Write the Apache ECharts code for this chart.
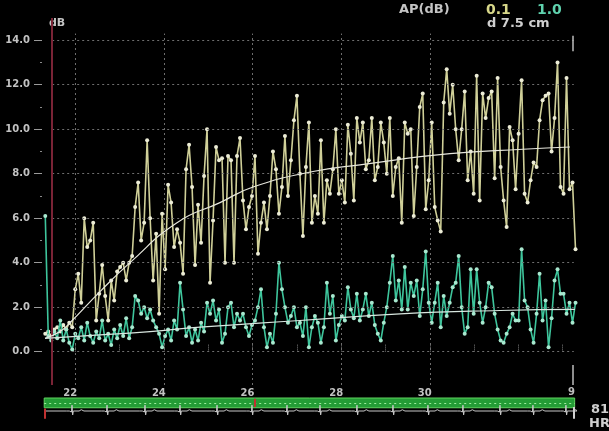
<!DOCTYPE html>
<html>
<head>
<meta charset="utf-8">
<script src="https://cdn.jsdelivr.net/npm/echarts@6/dist/echarts.min.js"></script>
<style>
  html, body { margin: 0; padding: 0; background: #000; }
  #chart { width: 609px; height: 431px; }
</style>
</head>
<body>
<div id="chart"></div>
<script>
// Acquisition timing: first frame time (s) and frame interval (s)
const frameStart = 21.324;
const frameStep = 0.0676;

// Acoustic power trace (dB), gain 0.1 channel
const apYellow = [
  0.8,0.9,0.7,1.0,1.1,0.9,1.2,1.0,1.3,1.1,
  2.8,3.5,2.2,6.0,4.7,5.0,5.8,1.4,2.6,3.9,
  2.5,1.4,3.2,2.3,3.6,3.8,4.0,3.2,4.0,4.3,
  6.5,7.6,5.0,5.8,9.5,6.0,3.2,5.3,1.7,6.2,
  3.7,7.5,6.7,4.7,5.5,4.9,3.5,8.2,9.3,7.4,
  3.9,6.6,4.9,7.9,10.0,3.1,5.9,9.2,8.6,8.7,
  4.0,8.8,8.6,4.0,8.8,9.6,6.8,5.5,6.5,7.0,
  8.8,4.4,5.8,6.7,5.5,7.0,9.0,8.2,6.2,7.4,
  9.7,7.0,8.6,10.4,11.5,8.0,5.2,8.3,10.3,5.8,
  7.0,6.2,9.5,5.8,7.7,7.1,8.2,10.0,7.1,7.7,
  6.7,10.2,8.9,6.8,10.5,9.4,10.3,8.2,8.6,10.5,
  7.7,8.3,10.3,9.4,8.0,10.5,7.0,8.3,8.7,5.8,
  10.3,9.8,10.0,6.1,8.3,11.0,11.6,6.4,7.7,10.3,
  6.5,5.9,5.4,11.2,12.7,10.7,12.0,10.0,8.6,10.0,
  11.7,7.7,9.0,7.1,12.4,6.8,11.6,10.5,11.4,11.7,
  7.8,12.3,8.3,6.8,5.6,10.1,9.5,7.3,9.8,12.2,
  7.1,6.7,7.7,8.5,8.3,10.4,11.3,11.5,11.6,9.0,
  10.5,13.0,7.4,7.1,12.3,7.3,7.6,4.6
];

// Acoustic power trace (dB), gain 1.0 channel
const apGreen = [
  6.1,0.7,0.5,0.9,0.6,1.4,0.5,1.0,0.4,0.1,
  0.8,0.6,1.1,0.5,1.3,0.7,0.4,0.9,0.6,1.4,
  0.5,0.8,0.3,1.0,0.6,1.2,0.7,1.5,0.6,1.1,
  2.5,2.3,1.7,2.0,1.5,1.9,1.4,1.1,0.8,0.2,
  0.7,1.0,0.5,1.4,1.0,3.1,1.9,0.7,1.1,0.4,
  1.0,0.5,1.3,0.9,2.2,1.7,2.3,1.4,1.9,0.4,
  0.8,2.0,2.2,1.1,1.7,1.4,1.7,1.1,0.7,1.2,
  1.4,2.0,2.8,1.1,0.2,0.8,0.4,1.7,4.0,2.8,
  2.0,1.3,1.6,2.0,1.1,1.3,0.7,2.0,0.2,1.1,
  1.6,1.3,0.4,1.1,3.1,1.7,2.5,0.5,1.2,1.6,
  1.4,2.9,1.9,1.5,2.6,1.4,1.9,2.6,1.6,2.2,
  1.2,0.8,0.5,1.3,2.0,3.1,4.3,2.3,3.2,1.9,
  3.8,1.9,3.1,2.5,3.2,1.6,2.8,4.5,2.2,1.3,
  2.2,3.1,1.1,2.5,1.6,2.2,2.9,3.1,4.3,2.0,
  0.8,1.1,3.7,1.7,3.7,2.2,1.3,2.0,3.1,2.9,
  1.7,1.0,0.5,0.4,0.8,1.1,1.7,1.4,1.4,4.6,
  2.3,2.0,1.0,0.4,1.7,3.5,1.4,2.3,0.2,1.5,
  3.2,3.7,2.6,2.6,1.7,2.2,1.3,2.2
];

// Replenishment curve fits
const fitYellowT  = [21.318,21.656,21.882,22.559,23.236,24.296,25.266,26.011,27.365,28.425,30.456,32.103,33.163];
const fitYellowDb = [0.6,0.9,1.3,2.7,4.0,5.8,6.7,7.4,8.1,8.4,8.9,9.1,9.2];
const fitGreenT   = [21.318,22.559,23.687,24.815,27.071,29.328,31.584,33.276];
const fitGreenDb  = [0.6,0.75,0.9,1.1,1.4,1.7,1.85,1.9];

// Axis ticks
const xTickLabels = [22, 24, 26, 28, 30];
const xTickMarks  = [22, 23, 24, 25, 26, 27, 28, 29, 30, 31, 32, 33];
const yTickLabels = [0, 2, 4, 6, 8, 10, 12, 14];
const yMinorTicks = [1, 3, 5, 7, 9, 11, 13];

// ECG strip: R-wave times (s)
const ecgBeats = [21.927,22.717,23.574,24.364,25.199,25.988,26.778,27.523,28.357,29.170,29.959,30.749,31.584,32.328,33.073];
// One heartbeat: [offset from R (s), amplitude]
const ecgBeatShape = [[-0.12,0],[-0.09,0.09],[-0.06,0],[-0.025,0],[-0.012,-0.08],[0,0.45],[0.015,-0.3],[0.03,0],[0.16,0],[0.21,0.1],[0.27,0]];

const markerTime = 21.476;   // frame cursor
const traceEnd = 33.23;

const xMin = 21.25, xMax = 33.3;

const yellowData = apYellow.map((v, i) => [frameStart + i * frameStep, v]);
const greenData = apGreen.map((v, i) => [frameStart + i * frameStep, v]);
const fitYellow = fitYellowT.map((t, i) => [t, fitYellowDb[i]]);
const fitGreen = fitGreenT.map((t, i) => [t, fitGreenDb[i]]);

const ecgData = [[21.30, 0]];
ecgBeats.forEach(b => ecgBeatShape.forEach(p => ecgData.push([b + p[0], p[1]])));
ecgData.push([33.27, 0]);

const font = '"DejaVu Sans", sans-serif';
const seg = (x1, y1, x2, y2, style) => {
  const a = { coord: [x1, y1] };
  if (style) a.lineStyle = style;
  return [a, { coord: [x2, y2] }];
};

// Grid lines, frame cursor and end-of-trace markers, drawn in data space
const gridLines = [];
yTickLabels.forEach(v => gridLines.push(seg(21.48, v, 33.25, v)));
xTickLabels.forEach(v => gridLines.push(seg(v, -1.5, v, 14.3)));
gridLines.push(seg(markerTime, -1.5, markerTime, 15, { color: '#7a2436', width: 2, type: 'solid' }));
gridLines.push(seg(traceEnd, 13.5, traceEnd, 14.2, { color: '#bdbdbd', width: 1.5, type: 'solid' }));
gridLines.push(seg(traceEnd, -1.5, traceEnd, -0.6, { color: '#bdbdbd', width: 1.5, type: 'solid' }));

const chart = echarts.init(document.getElementById('chart'), null, { renderer: 'canvas' });

chart.setOption({
  animation: false,
  backgroundColor: '#000',
  grid: [
    { left: 42, right: 33, top: 18, bottom: 46, outerBoundsMode: 'none' },
    { left: 42, right: 33, top: 398, bottom: 7, outerBoundsMode: 'none' }
  ],
  xAxis: [
    {
      type: 'value', gridIndex: 0, min: xMin, max: xMax,
      axisLine: { show: false },
      splitLine: { show: false },
      axisTick: { show: true, inside: true, length: 7, customValues: xTickMarks,
                  lineStyle: { color: '#7a7a7a', width: 1, type: [1, 1] } },
      axisLabel: { customValues: xTickLabels, color: '#c2c2c2', fontFamily: font,
                   fontWeight: 'bold', fontSize: 10, margin: 3, padding: [0, 10, 0, 0] }
    },
    { type: 'value', gridIndex: 1, min: xMin, max: xMax, show: false }
  ],
  yAxis: [
    {
      type: 'value', gridIndex: 0, min: -1.5, max: 15,
      axisLine: { show: false },
      splitLine: { show: false },
      axisTick: { show: true, length: 8, customValues: yTickLabels,
                  lineStyle: { color: '#9a9a9a', width: 1 } },
      axisLabel: { customValues: yTickLabels, formatter: v => v.toFixed(1),
                   color: '#c2c2c2', fontFamily: font, fontWeight: 'bold', fontSize: 10, margin: 12 }
    },
    {
      type: 'value', gridIndex: 0, min: -1.5, max: 15, position: 'left',
      axisLine: { show: false }, splitLine: { show: false },
      axisTick: { show: true, length: 2, customValues: yMinorTicks,
                  lineStyle: { color: '#8a8a8a', width: 1 } },
      axisLabel: { show: false }
    },
    { type: 'value', gridIndex: 1, min: -1, max: 1, show: false }
  ],
  graphic: [
    { type: 'text', left: 399, top: 3, style: { text: 'AP(dB)', fill: '#c4c4c4', font: 'bold 13px ' + font } },
    { type: 'text', left: 486, top: 3, style: { text: '0.1', fill: '#d8d88a', font: 'bold 14px ' + font } },
    { type: 'text', left: 537, top: 3, style: { text: '1.0', fill: '#5fd2ae', font: 'bold 14px ' + font } },
    { type: 'text', left: 487, top: 17, style: { text: 'd 7.5 cm', fill: '#cfcfcf', font: 'bold 13px ' + font } },
    { type: 'text', left: 49, top: 18, style: { text: 'dB', fill: '#c4c4c4', font: 'bold 11px ' + font } },
    { type: 'text', left: 568, top: 387, style: { text: '9', fill: '#bdbdbd', font: 'bold 10px ' + font } },
    { type: 'text', left: 591, top: 403, style: { text: '81', fill: '#cfcfcf', font: 'bold 13px ' + font } },
    { type: 'text', left: 589, top: 417, style: { text: 'HR', fill: '#cfcfcf', font: 'bold 13px ' + font } }
  ],
  series: [
    {
      type: 'line', xAxisIndex: 0, yAxisIndex: 0, data: [], z: 1, silent: true,
      markLine: {
        silent: true, symbol: 'none', label: { show: false }, animation: false,
        lineStyle: { color: '#6e6e6e', width: 1, type: [2, 3] },
        data: gridLines
      }
    },
    {
      name: 'AP 0.1', type: 'line', xAxisIndex: 0, yAxisIndex: 0, data: yellowData, z: 3,
      symbol: 'circle', symbolSize: 4,
      lineStyle: { color: '#cfcf98', width: 1.6 },
      itemStyle: { color: '#ececd6' }
    },
    {
      name: 'AP 1.0', type: 'line', xAxisIndex: 0, yAxisIndex: 0, data: greenData, z: 4,
      symbol: 'circle', symbolSize: 4,
      lineStyle: { color: '#3ec59c', width: 1.6 },
      itemStyle: { color: '#a8e8cf' }
    },
    {
      name: 'fit 0.1', type: 'line', xAxisIndex: 0, yAxisIndex: 0, data: fitYellow, z: 5,
      smooth: 0.5, symbol: 'none', lineStyle: { color: '#e6e6dc', width: 1.2 }
    },
    {
      name: 'fit 1.0', type: 'line', xAxisIndex: 0, yAxisIndex: 0, data: fitGreen, z: 5,
      smooth: 0.5, symbol: 'none', lineStyle: { color: '#d8e6df', width: 1.2 }
    },
    {
      name: 'ECG', type: 'line', xAxisIndex: 1, yAxisIndex: 2, data: ecgData, z: 3,
      symbol: 'none', lineStyle: { color: '#c8c8c8', width: 1 },
      markArea: {
        silent: true,
        itemStyle: { color: '#249c36', borderColor: '#5fd45f', borderWidth: 1 },
        data: [[{ coord: [21.30, 0.25] }, { coord: [33.27, 1.0] }]]
      },
      markLine: {
        silent: true, symbol: 'none', label: { show: false },
        lineStyle: { color: '#9cee9c', width: 1, type: [2, 3] },
        data: [
          seg(21.30, 0.62, 33.27, 0.62),
          seg(26.06, 0.3, 26.06, 0.95, { color: '#c03030', width: 2, type: 'solid' }),
          seg(21.32, -0.6, 21.32, 0.2, { color: '#c03030', width: 2, type: 'solid' }),
          seg(33.25, -0.6, 33.25, 0.3, { color: '#cfcfcf', width: 2, type: 'solid' })
        ]
      }
    }
  ]
});
</script>
</body>
</html>
